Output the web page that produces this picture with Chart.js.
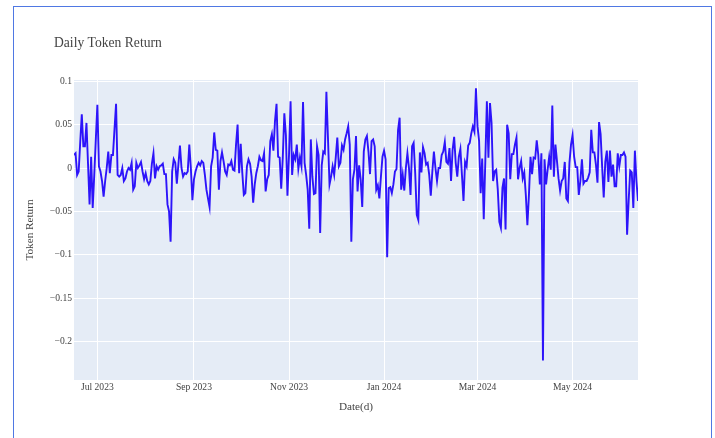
<!DOCTYPE html>
<html>
<head>
<meta charset="utf-8">
<title>Daily Token Return</title>
<script src="https://cdn.jsdelivr.net/npm/chart.js@4.4.1/dist/chart.umd.min.js"></script>
<style>
  html, body { margin: 0; padding: 0; background: #fff; }
  #wrap { position: relative; width: 715px; height: 438px; overflow: hidden; }
  #frame { position: absolute; left: 13px; top: 6px; width: 697px; height: 460px; border: 1px solid #4f78e3; }
  #chart { position: absolute; left: 0; top: 0; }
</style>
</head>
<body>
<div id="wrap">
  <div id="frame"></div>
  <canvas id="chart" width="715" height="438"></canvas>
</div>
<script>
// Daily token return, one value per day starting at START_DATE
var START_DATE = '2023-06-16';

var returns = [
  // Jun 16 2023 ->
  0.015, 0.017, -0.008, -0.004, 0.03, 0.062, 0.025, 0.025, 0.052, 0.005,
  -0.042, 0.013, -0.046, -0.008, 0.033, 0.073, 0.002, -0.004, -0.015, -0.033,
  -0.015, 0.0, 0.019, -0.006, 0.015, 0.015, 0.045, 0.074, -0.008, -0.01,
  -0.008, 0.0, -0.015, -0.012, -0.004, 0.0, -0.002, 0.006, -0.025, -0.021,
  0.006, 0.0, 0.003, 0.007, -0.004, -0.013, -0.006, -0.015, -0.019,
  // Aug 2023
  -0.015, 0.005, 0.017, -0.012, 0.002, -0.002, 0.002, 0.003, 0.005, -0.007,
  -0.007, -0.042, -0.05, -0.085, -0.004, 0.01, 0.006, -0.018, 0.004, 0.026,
  0.0, -0.01, -0.006, -0.007, -0.004, 0.027, 0.0, -0.037, -0.013, -0.004,
  0.002, 0.006, 0.003, 0.008, 0.006, -0.008, -0.025, -0.035, -0.045, 0.002,
  0.012, 0.041, 0.021, 0.02, -0.025, 0.008, 0.018, 0.008, -0.004, -0.008,
  0.004, 0.003, 0.008, -0.002, -0.003, 0.027, 0.05, -0.006,
  // Oct 2023
  0.028, -0.005, -0.031, -0.029, 0.002, 0.01, 0.005, -0.01, -0.04, -0.019,
  -0.006, 0.002, 0.013, 0.009, 0.008, 0.017, -0.027, -0.013, -0.008, 0.031,
  0.039, 0.02, 0.054, 0.074, 0.013, 0.012, -0.024, 0.012, 0.063, 0.038,
  -0.032, 0.015, 0.077, -0.008, 0.015, 0.01, 0.027, -0.001, 0.012, 0.002,
  0.076, 0.006, -0.008, -0.025, -0.07, 0.033, -0.01, -0.03, -0.029, 0.025,
  0.015, -0.075, 0.003, 0.019, 0.017, 0.088, 0.035, -0.019,
  // Nov/Dec 2023
  -0.01, 0.002, -0.008, 0.012, 0.035, 0.002, 0.006, 0.026, 0.021, 0.033,
  0.04, 0.048, 0.027, -0.085, -0.013, -0.002, 0.037, -0.027, 0.003, -0.013,
  -0.045, 0.019, 0.033, 0.037, 0.019, -0.007, 0.031, 0.033, 0.025, -0.025,
  -0.02, -0.035, -0.01, 0.013, 0.02, 0.01, -0.103, -0.023, -0.022, -0.029,
  -0.019, -0.004, -0.001, 0.044, 0.058, -0.025, -0.008, -0.026, 0.0, 0.017,
  0.0, -0.031, 0.025, 0.029, -0.006, -0.054, -0.06, 0.018, -0.005,
  // Jan/Feb 2024
  0.024, 0.017, 0.004, 0.006, -0.008, -0.032, -0.004, 0.019, 0.0, -0.015,
  0.0, 0.0, 0.015, 0.019, 0.03, 0.007, 0.005, 0.023, -0.015, 0.021,
  0.036, 0.006, -0.01, 0.013, 0.022, -0.008, -0.038, 0.007, 0.002, 0.026,
  0.029, 0.04, 0.048, 0.042, 0.092, 0.048, 0.031, -0.029, 0.011, -0.059,
  0.008, 0.077, 0.012, 0.075, 0.052, -0.015, -0.004, -0.002, -0.025, -0.062,
  -0.069, -0.023, -0.012, -0.071, 0.05, 0.04, -0.013,
  // Mar/Apr 2024
  0.016, 0.016, 0.027, 0.035, -0.013, 0.0, 0.008, -0.012, -0.005, -0.031,
  -0.066, -0.031, 0.013, -0.007, 0.012, 0.011, 0.032, 0.015, -0.019, 0.017,
  -0.222,
  0.01, -0.019, -0.002, 0.013, -0.002, 0.072, -0.01, 0.027, 0.008, -0.012,
  -0.026, -0.015, -0.012, 0.007, -0.035, -0.038, 0.006, 0.027, 0.038, 0.013,
  0.001, 0.001, -0.031, -0.015, 0.01, -0.018, -0.015, -0.015, -0.011, -0.005,
  0.044, 0.018, 0.018, 0.004, -0.017, 0.053, 0.039, 0.001, -0.034, 0.007,
  0.02, -0.016,
  // May/Jun 2024
  0.02, -0.01, 0.004, -0.021, -0.021, 0.017, 0.002, 0.015, 0.015, 0.018,
  0.013, -0.077, -0.038, -0.003, -0.005, -0.046, 0.02, -0.015, -0.038
];

var xTickDates = ['2023-07-01', '2023-09-01', '2023-11-01', '2024-01-01', '2024-03-01', '2024-05-01'];
var xTickLabels = ['Jul 2023', 'Sep 2023', 'Nov 2023', 'Jan 2024', 'Mar 2024', 'May 2024'];

var yTicks = [0.1, 0.05, 0, -0.05, -0.1, -0.15, -0.2];
var yTickLabels = ['0.1', '0.05', '0', '\u22120.05', '\u22120.1', '\u22120.15', '\u22120.2'];

var Y_MIN = -0.2445;
var Y_MAX = 0.1015;

var TEXT = '#444444';
var SERIF = '"Liberation Serif", "Times New Roman", serif';

function dayOffset(s) {
  return Math.round((Date.parse(s) - Date.parse(START_DATE)) / 86400000);
}

var points = returns.map(function (v, i) { return { x: i, y: v }; });
var xTickVals = xTickDates.map(dayOffset);

// plot background + title
var plotBg = {
  id: 'plotBg',
  beforeDraw: function (chart) {
    var a = chart.chartArea, ctx = chart.ctx;
    ctx.save();
    ctx.fillStyle = '#e5ecf6';
    ctx.fillRect(a.left, a.top, a.right - a.left, a.bottom - a.top);
    ctx.restore();
  },
  afterDraw: function (chart) {
    var ctx = chart.ctx;
    ctx.save();
    ctx.font = '13.6px ' + SERIF;
    ctx.fillStyle = TEXT;
    ctx.textBaseline = 'middle';
    ctx.fillText('Daily Token Return', 54, 43);
    ctx.restore();
  }
};

new Chart(document.getElementById('chart').getContext('2d'), {
  type: 'line',
  data: {
    datasets: [{
      label: 'Token Return',
      data: points,
      borderColor: 'rgb(45, 20, 250)',
      borderWidth: 1.9,
      pointRadius: 0,
      tension: 0,
      fill: false
    }]
  },
  options: {
    responsive: false,
    animation: false,
    devicePixelRatio: 1,
    layout: { padding: { left: 0, right: 77, top: 80, bottom: 0 } },
    plugins: {
      legend: { display: false },
      tooltip: { enabled: false }
    },
    scales: {
      x: {
        type: 'linear',
        min: 0,
        max: returns.length - 1,
        afterFit: function (s) { s.height = 58; },
        afterBuildTicks: function (s) { s.ticks = xTickVals.map(function (v) { return { value: v }; }); },
        ticks: {
          autoSkip: false,
          maxRotation: 0,
          padding: 2,
          color: TEXT,
          font: { family: SERIF, size: 9.6 },
          callback: function (v, i) { return xTickLabels[i]; }
        },
        grid: { color: '#ffffff', lineWidth: 1, drawTicks: false },
        border: { display: false },
        title: {
          display: true,
          text: 'Date(d)',
          color: TEXT,
          font: { family: SERIF, size: 11.2 },
          padding: { top: 0, bottom: 24 }
        }
      },
      y: {
        min: Y_MIN,
        max: Y_MAX,
        afterFit: function (s) { s.width = 74; },
        afterBuildTicks: function (s) { s.ticks = yTicks.map(function (v) { return { value: v }; }); },
        ticks: {
          padding: 2,
          color: TEXT,
          font: { family: SERIF, size: 9.6 },
          callback: function (v, i) { return yTickLabels[i]; }
        },
        grid: { color: '#ffffff', lineWidth: 1, drawTicks: false },
        border: { display: false },
        title: {
          display: true,
          text: 'Token Return',
          color: TEXT,
          font: { family: SERIF, size: 11.2 },
          padding: { top: 23, bottom: 0 }
        }
      }
    }
  },
  plugins: [plotBg]
});
</script>
</body>
</html>
